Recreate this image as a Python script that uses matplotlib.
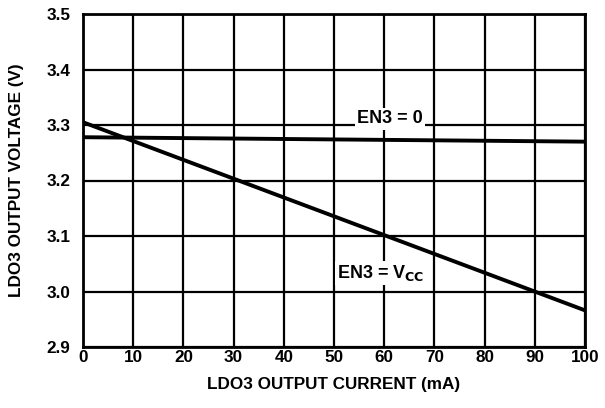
import matplotlib
matplotlib.use("Agg")
import matplotlib.pyplot as plt

# data
current = [0, 100]
v_en3_0 = [3.278, 3.270]
v_en3_vcc = [3.305, 2.966]
xticks = [0, 10, 20, 30, 40, 50, 60, 70, 80, 90, 100]
yticks = [2.9, 3.0, 3.1, 3.2, 3.3, 3.4, 3.5]

plt.rcParams['font.family'] = ['Liberation Sans', 'DejaVu Sans']
plt.rcParams['font.weight'] = 'bold'

fig = plt.figure(figsize=(6.05, 4.08), dpi=100)
ax = fig.add_axes([83/605, 1 - 347/408, 502/605, 333/408])

ax.plot(current, v_en3_0, color='black', lw=2.8, solid_capstyle='butt', zorder=3)
ax.plot(current, v_en3_vcc, color='black', lw=2.8, solid_capstyle='butt', zorder=3)

ax.set_xlim(0, 100)
ax.set_ylim(2.9, 3.5)
ax.set_xticks(xticks)
ax.set_yticks(yticks)
ax.set_xticklabels([str(t) for t in xticks])
ax.set_yticklabels(['%.1f' % t for t in yticks])
ax.grid(True, color='black', lw=1.6)
ax.tick_params(length=0, labelsize=12.3)
ax.tick_params(axis='x', pad=2.5)
ax.tick_params(axis='y', pad=9)
for s in ax.spines.values():
    s.set_linewidth(2.0)

ax.text(54.6, 3.311, 'EN3 = 0', fontsize=13, fontweight='bold', ha='left', va='center',
        bbox=dict(facecolor='white', edgecolor='none', pad=1.5), zorder=4)
ax.text(50.6, 3.033, 'EN3 = V$_{\\mathbf{CC}}$', fontsize=13, fontweight='bold', ha='left',
        va='center', bbox=dict(facecolor='white', edgecolor='none', pad=1.5), zorder=4)

ax.set_xlabel('LDO3 OUTPUT CURRENT (mA)', fontsize=12.3, fontweight='bold', labelpad=8)
ax.set_ylabel('LDO3 OUTPUT VOLTAGE (V)', fontsize=12.3, fontweight='bold', labelpad=16)

fig.savefig('out.png', dpi=100)
